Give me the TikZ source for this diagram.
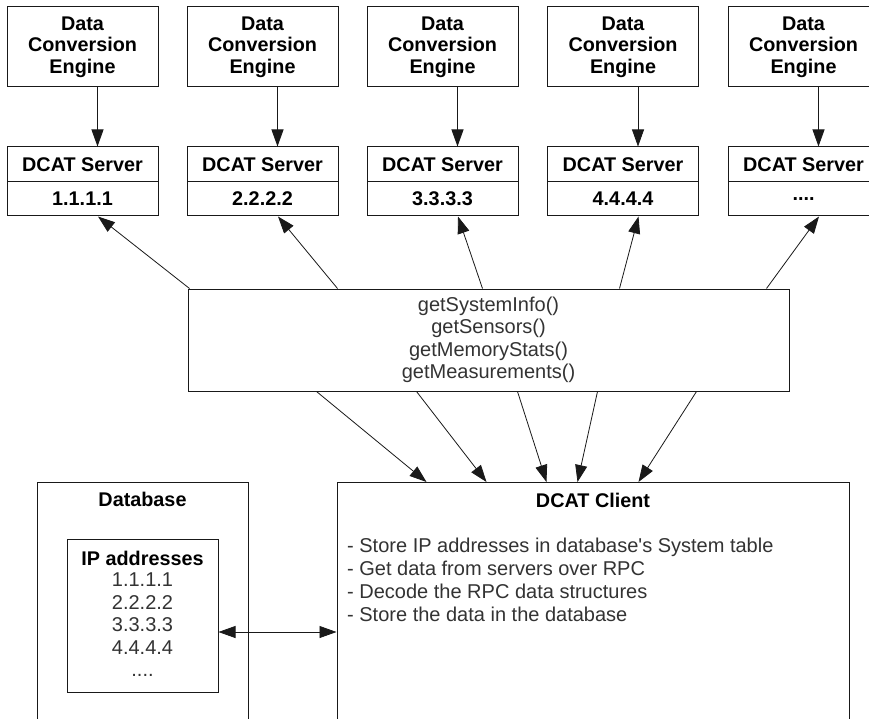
\documentclass[tikz,border=0pt]{standalone}
\usepackage{fontspec}
\setmainfont{Liberation Sans}
\usetikzlibrary{arrows.meta,calc}

\newcommand{\srvdots}{....}

\tikzset{
  frame/.style={draw=black!90, line width=1pt, inner sep=0pt},
  boldtxt/.style={font=\fontsize{19.8}{21.5}\selectfont\bfseries},
  plaintxt/.style={font=\fontsize{20}{22.5}\selectfont, text=black!80},
  engine/.style={frame, boldtxt, minimum width=151pt, minimum height=80pt, align=center},
  srvhead/.style={frame, boldtxt, minimum width=151pt, minimum height=35pt},
  srvaddr/.style={frame, boldtxt, minimum width=151pt, minimum height=34pt},
  link/.style={draw=black!90, line width=0.8pt, -{Triangle[length=17pt,width=12pt]}},
  duplex/.style={draw=black!90, line width=0.8pt, {Triangle[length=17pt,width=12pt]}-{Triangle[length=17pt,width=12pt]}},
}

\begin{document}
\begin{tikzpicture}[x=1pt,y=-1pt]
\useasboundingbox (0,0) rectangle (869,719);
\clip (0,0) rectangle (869,719);
\fill[white] (0,0) rectangle (869,719);

% conversion engines and DCAT servers
\foreach \i/\cx/\ip in {1/82.5/1.1.1.1, 2/262.5/2.2.2.2, 3/442.5/3.3.3.3, 4/623/4.4.4.4, 5/803.5/\srvdots}{
  \node[engine] (e\i) at (\cx,47) {Data\\Conversion\\Engine};
  \node[srvhead] (h\i) at (\cx,164.5) {DCAT Server};
  \node[srvaddr] (s\i) at (\cx,199) {\ip};
  \draw[link] ([xshift=15pt]e\i.south) -- ([xshift=15pt]h\i.north);
}

% RPC calls
\node[frame, plaintxt, align=center, minimum width=601pt, minimum height=102pt] (rpc) at (488.5,340)
  {getSystemInfo()\\getSensors()\\getMemoryStats()\\getMeasurements()};

\draw[link] ($(rpc.north west)+(2,0)$)   -- ([xshift=15.5pt]s1.south);
\draw[link] ($(rpc.north west)+(150,0)$) -- ([xshift=15.5pt]s2.south);
\draw[link] ($(rpc.north west)+(295,0)$) -- ([xshift=15.5pt]s3.south);
\draw[link] ($(rpc.north west)+(432,0)$) -- ([xshift=15.5pt]s4.south);
\draw[link] ($(rpc.north west)+(579,0)$) -- ([xshift=15.5pt]s5.south);

% DCAT client
\node[frame, minimum width=512pt, minimum height=260pt, anchor=north] (client) at (593,482) {};
\node[boldtxt] (clientTitle) at (593,500) {DCAT Client};
\node[font=\fontsize{20}{23}\selectfont, text=black!80, align=left, anchor=west, inner sep=0pt] (clientList) at (347,579.5)
  {- Store IP addresses in database\textquotesingle s System table\\- Get data from servers over RPC\\- Decode the RPC data structures\\- Store the data in the database};

\draw[link] ($(rpc.south west)+(129,0)$) -- ($(client.north west)+(90,0)$);
\draw[link] ($(rpc.south west)+(229,0)$) -- ($(client.north west)+(150,0)$);
\draw[link] ($(rpc.south west)+(330,0)$) -- ($(client.north west)+(210,0)$);
\draw[link] ($(rpc.south west)+(410,0)$) -- ($(client.north west)+(241,0)$);
\draw[link] ($(rpc.south west)+(509,0)$) -- ($(client.north west)+(302,0)$);

% database
\node[frame, minimum width=211pt, minimum height=260pt, anchor=north] (db) at (142.5,482) {};
\node[boldtxt] (dbTitle) at (142.5,499) {Database};
\node[frame, minimum width=151pt, minimum height=153pt] (ipbox) at (142.5,615.5) {};
\node[boldtxt] (ipTitle) at (142.5,558) {IP addresses};
\node[plaintxt, align=center] (ipList) at (142.5,625) {1.1.1.1\\2.2.2.2\\3.3.3.3\\4.4.4.4\\....};

\draw[duplex] ([yshift=-16.5pt]ipbox.east) -- ([yshift=-16.5pt]ipbox.east -| client.west);
\end{tikzpicture}
\end{document}
